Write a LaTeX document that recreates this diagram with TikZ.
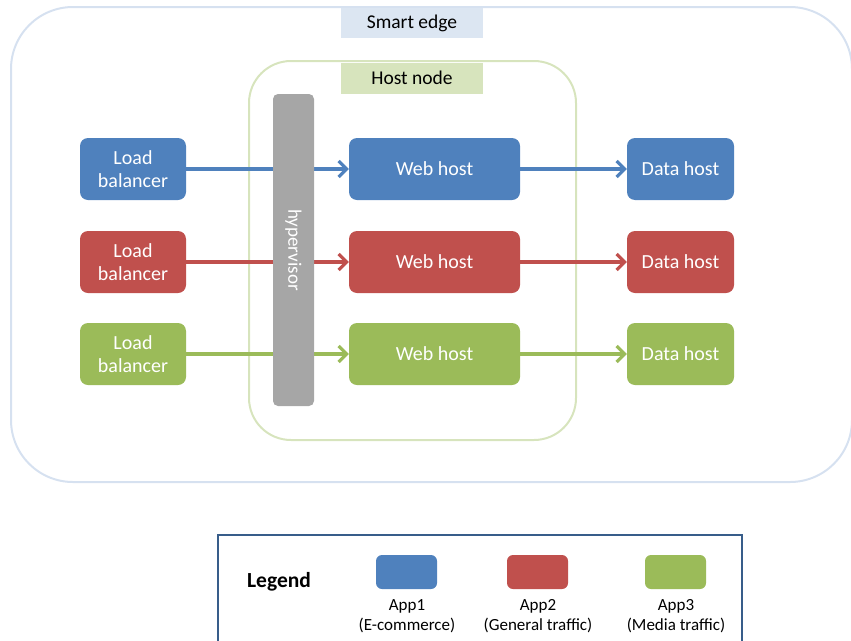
\documentclass[tikz,border=0pt]{standalone}
\usepackage{fontspec}
\setmainfont{Carlito}
\usetikzlibrary{arrows.meta}
\definecolor{appblue}{HTML}{4F81BD}
\definecolor{appred}{HTML}{C0504D}
\definecolor{appgreen}{HTML}{9BBB59}
\definecolor{hvgray}{HTML}{A6A6A6}
\definecolor{edgeline}{HTML}{D6E1F0}
\definecolor{edgefill}{HTML}{DCE6F2}
\definecolor{hostline}{HTML}{D7E4BD}
\definecolor{legendline}{HTML}{385D8A}
\tikzset{
  appbox/.style={rounded corners=8pt, minimum height=62pt, align=center,
    text=white, inner sep=0pt, font=\fontsize{20}{23}\selectfont},
  flow/.style={line width=3.2pt, -{Straight Barb[length=8pt,width=16pt,line width=3.2pt]}},
  swatch/.style={rounded corners=6pt, minimum width=61pt, minimum height=34pt, inner sep=0pt},
  applabel/.style={align=center, font=\fontsize{17}{20}\selectfont, inner sep=0pt}
}
\begin{document}
\begin{tikzpicture}[x=1pt, y=-1pt]
\useasboundingbox (0,0) rectangle (851,640);
% smart edge region
\draw[edgeline, line width=2pt, rounded corners=62pt] (11,7) rectangle (852,482);
\node[fill=edgefill, minimum width=142pt, minimum height=30pt, inner sep=0pt,
  font=\fontsize{19.5}{22}\selectfont] (smartedge) at (412,23) {Smart edge};
% host node region
\draw[hostline, line width=2pt, rounded corners=42pt] (249,61) rectangle (576,440);
\node[fill=hostline, minimum width=142pt, minimum height=31pt, inner sep=0pt,
  font=\fontsize{19.5}{22}\selectfont] (hostnode) at (412,78) {Host node};
% application rows
\node[appbox, fill=appblue, minimum width=106pt] (lb1) at (133,169) {Load\\balancer};
\node[appbox, fill=appred, minimum width=106pt] (lb2) at (133,262) {Load\\balancer};
\node[appbox, fill=appgreen, minimum width=106pt] (lb3) at (133,354) {Load\\balancer};
\node[appbox, fill=appblue, minimum width=171pt] (web1) at (434.5,169) {Web host};
\node[appbox, fill=appred, minimum width=171pt] (web2) at (434.5,262) {Web host};
\node[appbox, fill=appgreen, minimum width=171pt] (web3) at (434.5,354) {Web host};
\node[appbox, fill=appblue, minimum width=107pt] (data1) at (680.5,169) {Data host};
\node[appbox, fill=appred, minimum width=107pt] (data2) at (680.5,262) {Data host};
\node[appbox, fill=appgreen, minimum width=107pt] (data3) at (680.5,354) {Data host};
% traffic flows
\draw[flow, appblue] (lb1) -- (web1);
\draw[flow, appred] (lb2) -- (web2);
\draw[flow, appgreen] (lb3) -- (web3);
\draw[flow, appblue] (web1) -- (data1);
\draw[flow, appred] (web2) -- (data2);
\draw[flow, appgreen] (web3) -- (data3);
% hypervisor bar over the flows
\node[fill=hvgray, rounded corners=5pt, minimum width=41pt, minimum height=312pt,
  inner sep=0pt] (hv) at (293.5,250) {};
\node[rotate=-90, text=white, font=\fontsize{19}{22}\selectfont] (hvtext) at (hv.center) {hypervisor};
% legend
\node[draw=legendline, line width=2pt, minimum width=524pt, minimum height=110pt,
  inner sep=0pt] (legend) at (480,590) {};
\node[font=\bfseries\fontsize{21.5}{24}\selectfont] (legendtitle) at (279,582) {Legend};
\node[swatch, fill=appblue] (sw1) at (406.5,572) {};
\node[swatch, fill=appred] (sw2) at (537.5,572) {};
\node[swatch, fill=appgreen] (sw3) at (675.5,572) {};
\node[applabel] (lab1) at (407,616) {App1\\(E-commerce)};
\node[applabel] (lab2) at (538,616) {App2\\(General traffic)};
\node[applabel] (lab3) at (676,616) {App3\\(Media traffic)};
\end{tikzpicture}
\end{document}
